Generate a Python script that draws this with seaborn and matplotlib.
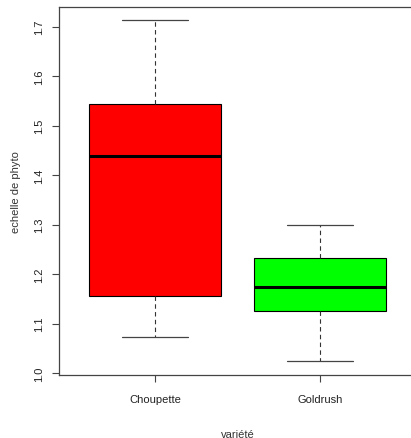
import numpy as np
import pandas as pd
import matplotlib
matplotlib.use("Agg")
import matplotlib.pyplot as plt
import seaborn as sns

# five-number summaries (min, q1, median, q3, max)
varietes = ["Choupette", "Goldrush"]
choupette = [1.074, 1.156, 1.439, 1.543, 1.713]
goldrush = [1.024, 1.126, 1.175, 1.232, 1.299]
couleurs = ["#FF0000", "#00FF00"]

df = pd.DataFrame({
    "variete": [varietes[0]] * len(choupette) + [varietes[1]] * len(goldrush),
    "echelle": choupette + goldrush,
})

sns.set_style("white")
plt.rcParams["font.family"] = ["Liberation Sans", "DejaVu Sans"]

fig = plt.figure(figsize=(4.11, 4.39), dpi=100)
W, H = 411, 439
ax = fig.add_axes([59 / W, (H - 376) / H, (416 - 59) / W, (376 - 8) / H])

sns.boxplot(
    data=df, x="variete", y="echelle", hue="variete", order=varietes,
    palette=couleurs, saturation=1, width=0.8, legend=False,
    linecolor="black", linewidth=0.8, whis=1.5, ax=ax,
    medianprops={"color": "black", "linewidth": 2.2},
    whiskerprops={"color": "#333333", "linewidth": 0.8, "linestyle": (0, (4, 3))},
    capprops={"color": "#444444", "linewidth": 0.9},
)

ax.set_xlim(-0.58, 1.58)
ax.set_ylim(0.9965, 1.7395)
ax.set_yticks([1.0, 1.1, 1.2, 1.3, 1.4, 1.5, 1.6, 1.7])
ax.set_yticklabels(["1.0", "1.1", "1.2", "1.3", "1.4", "1.5", "1.6", "1.7"],
                   rotation=90, va="center", fontsize=8, color="#222222")
ax.set_xticks([0, 1])
ax.set_xticklabels(varietes, fontsize=8, color="#222222")
ax.tick_params(axis="y", length=5, width=0.8, color="#444444", pad=6, left=True)
ax.tick_params(axis="x", length=5, width=0.8, color="#444444", pad=9, bottom=True)
for s in ax.spines.values():
    s.set_color("#444444")
    s.set_linewidth(0.9)
ax.spines["right"].set_visible(False)

ax.set_xlabel("variété", fontsize=8, color="#333333", labelpad=18)
ax.set_ylabel("echelle de phyto", fontsize=8, color="#333333", labelpad=9)

fig.savefig("out.png", dpi=100)
